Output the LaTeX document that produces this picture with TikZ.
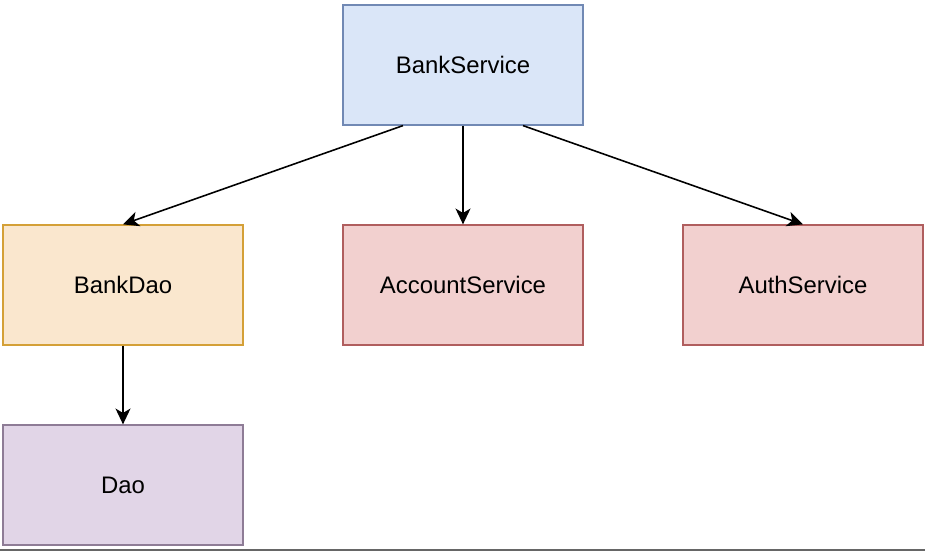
\documentclass[tikz,border=0pt]{standalone}
\usepackage{fontspec}
\setmainfont{Liberation Sans}
\usepackage{tikz}
\usetikzlibrary{arrows.meta}

\definecolor{blueFill}{HTML}{DAE6F8}
\definecolor{blueLine}{HTML}{7189B4}
\definecolor{orangeFill}{HTML}{FAE7CE}
\definecolor{orangeLine}{HTML}{D4A037}
\definecolor{redFill}{HTML}{F2D0CF}
\definecolor{redLine}{HTML}{B05E5E}
\definecolor{purpleFill}{HTML}{E1D5E7}
\definecolor{purpleLine}{HTML}{8E7C96}

\tikzset{
    svcbox/.style={draw, line width=0.7pt, minimum width=4.8cm, minimum height=2.4cm,
                   font=\fontsize{13.6}{16}\selectfont},
    dep/.style={line width=0.9pt, -{Stealth[length=9pt,width=8.5pt,inset=2.5pt]}}
}

\begin{document}
\begin{tikzpicture}
        \useasboundingbox (0,0) rectangle (18.5,11.04);
        \node [svcbox, fill=blueFill, draw=blueLine]     (bs)  at (9.26,9.74)  {BankService};    %top
        \node [svcbox, fill=orangeFill, draw=orangeLine] (bd)  at (2.46,5.34)  {BankDao};        %left
        \node [svcbox, fill=redFill, draw=redLine]       (acc) at (9.26,5.34)  {AccountService}; %middle
        \node [svcbox, fill=redFill, draw=redLine]       (au)  at (16.06,5.34) {AuthService};    %right
        \node [svcbox, fill=purpleFill, draw=purpleLine] (dao) at (2.46,1.34)  {Dao};            %bottom

        \draw [dep] ([xshift=-1.2cm]bs.south) -- (bd.north);   %
        \draw [dep] (bs.south) -- (acc.north);                 %
        \draw [dep] ([xshift=1.2cm]bs.south) -- (au.north);    %
        \draw [dep] (bd.south) -- (dao.north);                 %

        \draw [gray!80!black, line width=0.6pt] (0,0.04) -- (18.5,0.04);
\end{tikzpicture}
\end{document}
